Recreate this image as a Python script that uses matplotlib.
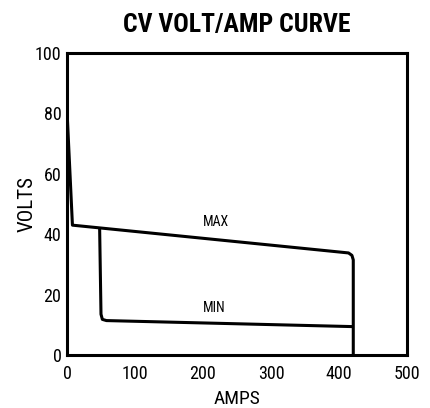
import matplotlib
matplotlib.use("Agg")
import matplotlib.pyplot as plt

plt.rcParams['font.family'] = ['Roboto Condensed', 'Roboto', 'DejaVu Sans']

max_amps = [0, 8, 414, 419, 421, 421]
max_volts = [81, 43, 33.8, 33.0, 31.5, 0]
min_amps = [48, 50, 52, 58, 421]
min_volts = [42, 13.5, 11.8, 11.4, 9.4]
labels = ["MAX", "MIN"]
label_pos = [(219, 44), (217, 15.5)]
xticks = [0, 100, 200, 300, 400, 500]
yticks = [0, 20, 40, 60, 80, 100]

fig = plt.figure(figsize=(4.3, 4.08), dpi=100)
ax = fig.add_axes([0.1558, 0.1299, 0.7907, 0.7401])
ax.plot(max_amps, max_volts, color='black', lw=2.2, solid_joinstyle='round', solid_capstyle='butt')
ax.plot(min_amps, min_volts, color='black', lw=2.2, solid_joinstyle='round', solid_capstyle='butt')
for t, (x, y) in zip(labels, label_pos):
    ax.text(x, y, t, ha='center', va='center', fontsize=10)
ax.set_xlim(0, 500)
ax.set_ylim(0, 100)
ax.set_xticks(xticks)
ax.set_yticks(yticks)
ax.tick_params(length=0, labelsize=13)
ax.tick_params(axis='x', pad=7)
ax.tick_params(axis='y', pad=4)
for s in ax.spines.values():
    s.set_linewidth(2.2)
ax.set_xlabel("AMPS", fontsize=14, labelpad=5)
ax.set_ylabel("VOLTS", fontsize=15, labelpad=-1)
ax.set_title("CV VOLT/AMP CURVE", fontsize=18.5, fontweight='bold', pad=15)
fig.savefig("out.png", dpi=100)
